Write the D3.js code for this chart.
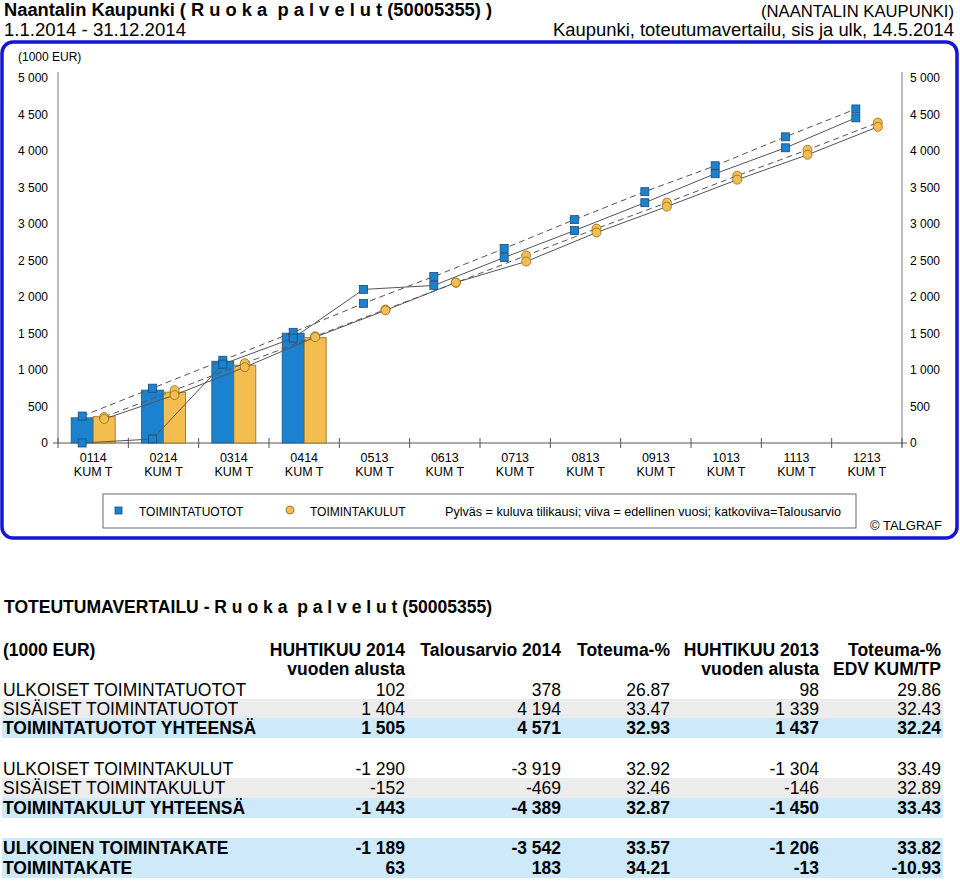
<!DOCTYPE html>
<html>
<head>
<meta charset="utf-8">
<script src="https://cdn.jsdelivr.net/npm/d3@7"></script>
<style>
  html, body { margin: 0; padding: 0; background: #fff; }
  svg text { font-family: "Liberation Sans", Arial, sans-serif; fill: #000; white-space: pre; }
</style>
</head>
<body>
<svg id="chart" width="960" height="881"></svg>
<script>
// ---------- DATA ----------
const categories = ["0114","0214","0314","0414","0513","0613","0713","0813","0913","1013","1113","1213"];
const categorySub = "KUM T";
const yTicks = [0, 500, 1000, 1500, 2000, 2500, 3000, 3500, 4000, 4500, 5000];

// current year (bars)
const tuototActual = [345, 724, 1120, 1505];
const kulutActual  = [360, 697, 1066, 1443];
// previous year (solid line)
const tuototPrev = [0, 55, 1080, 1437, 2104, 2158, 2541, 2910, 3292, 3689, 4044, 4454];
const kulutPrev  = [329, 656, 1038, 1450, 1817, 2199, 2486, 2883, 3238, 3607, 3948, 4331];
// budget (dashed line)
const tuototBudget = [369, 751, 1134, 1516, 1913, 2281, 2664, 3060, 3443, 3798, 4194, 4576];
const kulutBudget  = [356, 724, 1093, 1462, 1829, 2195, 2568, 2937, 3292, 3661, 4016, 4389];

const legendLabels = ["TOIMINTATUOTOT", "TOIMINTAKULUT"];
const legendNote = "Pylväs = kuluva tilikausi; viiva = edellinen vuosi; katkoviiva=Talousarvio";

// table
const tableTitle = "TOTEUTUMAVERTAILU - R u o k a  p a l v e l u t (50005355)";
const tableUnit = "(1000 EUR)";
const tableHeads1 = ["HUHTIKUU 2014", "Talousarvio 2014", "Toteuma-%", "HUHTIKUU 2013", "Toteuma-%"];
const tableHeads2 = ["vuoden alusta", "", "", "vuoden alusta", "EDV KUM/TP"];
const rowLabels = ["ULKOISET TOIMINTATUOTOT","SISÄISET TOIMINTATUOTOT","TOIMINTATUOTOT YHTEENSÄ",
                   "ULKOISET TOIMINTAKULUT","SISÄISET TOIMINTAKULUT","TOIMINTAKULUT YHTEENSÄ",
                   "ULKOINEN TOIMINTAKATE","TOIMINTAKATE"];
const colHuhti2014 = ["102","1 404","1 505","-1 290","-152","-1 443","-1 189","63"];
const colTalous    = ["378","4 194","4 571","-3 919","-469","-4 389","-3 542","183"];
const colToteuma   = ["26.87","33.47","32.93","32.92","32.46","32.87","33.57","34.21"];
const colHuhti2013 = ["98","1 339","1 437","-1 304","-146","-1 450","-1 206","-13"];
const colToteumaEdv= ["29.86","32.43","32.24","33.49","32.89","33.43","33.82","-10.93"];
const rowStyle     = ["plain","grey","total","plain","grey","total","total","total"];

// ---------- DRAW ----------
const svg = d3.select("#chart");
const BLUE = "#1a82cf", ORANGE = "#f3bd4f";

// header texts
svg.append("text").attr("x", 4).attr("y", 16).attr("font-size", 17.5).attr("font-weight", "bold")
  .attr("textLength", 488).attr("lengthAdjust", "spacingAndGlyphs")
  .text("Naantalin Kaupunki ( R u o k a  p a l v e l u t (50005355) )");
svg.append("text").attr("x", 4).attr("y", 36).attr("font-size", 17.5)
  .attr("textLength", 182).attr("lengthAdjust", "spacingAndGlyphs")
  .text("1.1.2014 - 31.12.2014");
svg.append("text").attr("x", 954).attr("y", 17).attr("font-size", 16.5).attr("text-anchor", "end")
  .attr("textLength", 193).attr("lengthAdjust", "spacingAndGlyphs")
  .text("(NAANTALIN KAUPUNKI)");
svg.append("text").attr("x", 954).attr("y", 36).attr("font-size", 17.5).attr("text-anchor", "end")
  .attr("textLength", 401).attr("lengthAdjust", "spacingAndGlyphs")
  .text("Kaupunki, toteutumavertailu, sis ja ulk, 14.5.2014");

// frame
svg.append("rect").attr("x", 2).attr("y", 42).attr("width", 955).attr("height", 496)
  .attr("rx", 11).attr("fill", "none").attr("stroke", "#1616d2").attr("stroke-width", 3.5);

svg.append("text").attr("x", 18).attr("y", 61).attr("font-size", 12).text("(1000 EUR)");

// scales
const x = d3.scaleBand().domain(categories).range([58, 902]).padding(0);
const y = d3.scaleLinear().domain([0, 5000]).range([443, 78]);
const cx = c => x(c) + x.bandwidth() / 2;
const barW = 22;

// axes
const fmt = d => d3.format(",")(d).replace(/,/g, " ");
const leftAxis = d3.axisLeft(y).tickValues(yTicks).tickSize(0).tickPadding(10).tickFormat(fmt);
const gL = svg.append("g").attr("transform", "translate(58,0)").call(leftAxis);
gL.select(".domain").remove();
gL.selectAll("text").attr("font-size", 12).attr("font-family", "Liberation Sans, Arial, sans-serif");
const rightAxis = d3.axisRight(y).tickValues(yTicks).tickSize(0).tickPadding(8).tickFormat(fmt);
const gR = svg.append("g").attr("transform", "translate(902,0)").call(rightAxis);
gR.select(".domain").remove();
gR.selectAll("text").attr("font-size", 12).attr("font-family", "Liberation Sans, Arial, sans-serif");

svg.append("line").attr("x1", 58).attr("x2", 58).attr("y1", 72).attr("y2", 443).attr("stroke", "#777");
svg.append("line").attr("x1", 902).attr("x2", 902).attr("y1", 72).attr("y2", 447).attr("stroke", "#777");
svg.append("line").attr("x1", 53).attr("x2", 907).attr("y1", 443).attr("y2", 443).attr("stroke", "#555");

// category ticks & labels
const bounds = categories.map(c => x(c)).concat([902]);
svg.selectAll(".ctick").data(bounds).enter().append("line")
  .attr("x1", d => d).attr("x2", d => d).attr("y1", 438).attr("y2", 448).attr("stroke", "#555");
const cl = svg.selectAll(".clab").data(categories).enter().append("text")
  .attr("x", d => cx(d)).attr("text-anchor", "middle").attr("font-size", 12.5);
cl.append("tspan").attr("x", d => cx(d)).attr("y", 462).text(d => d);
cl.append("tspan").attr("x", d => cx(d)).attr("y", 476).text(categorySub);

// bars
svg.selectAll(".bt").data(tuototActual).enter().append("rect")
  .attr("x", (d, i) => cx(categories[i]) - barW).attr("width", barW)
  .attr("y", d => y(d)).attr("height", d => y(0) - y(d))
  .attr("fill", BLUE).attr("stroke", "#22557f").attr("stroke-width", 0.8);
svg.selectAll(".bk").data(kulutActual).enter().append("rect")
  .attr("x", (d, i) => cx(categories[i])).attr("width", barW)
  .attr("y", d => y(d)).attr("height", d => y(0) - y(d))
  .attr("fill", ORANGE).attr("stroke", "#8f6a22").attr("stroke-width", 0.8);

// lines
const lineT = d3.line().x((d, i) => cx(categories[i]) - barW / 2).y(d => y(d));
const lineK = d3.line().x((d, i) => cx(categories[i]) + barW / 2).y(d => y(d));
[[tuototBudget, lineT, "6,4"], [kulutBudget, lineK, "6,4"], [tuototPrev, lineT, null], [kulutPrev, lineK, null]]
  .forEach(([data, gen, dash]) => {
    svg.append("path").attr("d", gen(data)).attr("fill", "none")
      .attr("stroke", "#555").attr("stroke-width", 1)
      .attr("stroke-dasharray", dash);
  });

// markers
function squares(data) {
  svg.selectAll(null).data(data).enter().append("rect")
    .attr("x", (d, i) => cx(categories[i]) - barW / 2 - 4).attr("y", d => y(d) - 4)
    .attr("width", 8).attr("height", 8)
    .attr("fill", BLUE).attr("stroke", "#1d4a73").attr("stroke-width", 0.8);
}
function circles(data) {
  svg.selectAll(null).data(data).enter().append("circle")
    .attr("cx", (d, i) => cx(categories[i]) + barW / 2).attr("cy", d => y(d)).attr("r", 4.5)
    .attr("fill", ORANGE).attr("stroke", "#8f6a22").attr("stroke-width", 0.8);
}
squares(tuototBudget); squares(tuototPrev);
circles(kulutBudget); circles(kulutPrev);

// legend
svg.append("rect").attr("x", 103).attr("y", 494).attr("width", 753).attr("height", 34)
  .attr("fill", "none").attr("stroke", "#666").attr("stroke-width", 1);
svg.append("rect").attr("x", 115).attr("y", 507).attr("width", 7).attr("height", 7)
  .attr("fill", BLUE).attr("stroke", "#1d4a73").attr("stroke-width", 0.8);
svg.append("text").attr("x", 139).attr("y", 516).attr("font-size", 12).text(legendLabels[0]);
svg.append("circle").attr("cx", 290).attr("cy", 510).attr("r", 4)
  .attr("fill", ORANGE).attr("stroke", "#8f6a22").attr("stroke-width", 0.8);
svg.append("text").attr("x", 310).attr("y", 516).attr("font-size", 12).text(legendLabels[1]);
svg.append("text").attr("x", 445).attr("y", 516).attr("font-size", 12)
  .attr("textLength", 396).attr("lengthAdjust", "spacingAndGlyphs").text(legendNote);
svg.append("text").attr("x", 870).attr("y", 530).attr("font-size", 13).text("© TALGRAF");

// ---------- TABLE ----------
svg.append("text").attr("x", 4).attr("y", 613).attr("font-size", 17.5).attr("font-weight", "bold")
  .attr("textLength", 488).attr("lengthAdjust", "spacingAndGlyphs").text(tableTitle);

const colRight = [405, 561, 670, 819, 941];
const cols = [colHuhti2014, colTalous, colToteuma, colHuhti2013, colToteumaEdv];
const FS = 17.5;

svg.append("text").attr("x", 3).attr("y", 656).attr("font-size", FS).attr("font-weight", "bold").text(tableUnit);
tableHeads1.forEach((h, j) => {
  svg.append("text").attr("x", colRight[j]).attr("y", 656).attr("text-anchor", "end")
    .attr("font-size", FS).attr("font-weight", "bold").text(h);
  if (tableHeads2[j]) svg.append("text").attr("x", colRight[j]).attr("y", 675).attr("text-anchor", "end")
    .attr("font-size", FS).attr("font-weight", "bold").text(tableHeads2[j]);
});

const rowCenters = [690, 709, 728, 769, 788, 808, 848, 868];
rowLabels.forEach((lab, i) => {
  const c = rowCenters[i];
  const st = rowStyle[i];
  if (st !== "plain") {
    svg.append("rect").attr("x", 2).attr("y", c - 10).attr("width", 941).attr("height", 20)
      .attr("fill", st === "grey" ? "#ececec" : "#cde9fa");
  }
  const bold = st === "total" ? "bold" : "normal";
  svg.append("text").attr("x", 3).attr("y", c + 6).attr("font-size", FS).attr("font-weight", bold).text(lab);
  cols.forEach((col, j) => {
    svg.append("text").attr("x", colRight[j]).attr("y", c + 6).attr("text-anchor", "end")
      .attr("font-size", FS).attr("font-weight", bold).text(col[i]);
  });
});
</script>
</body>
</html>
